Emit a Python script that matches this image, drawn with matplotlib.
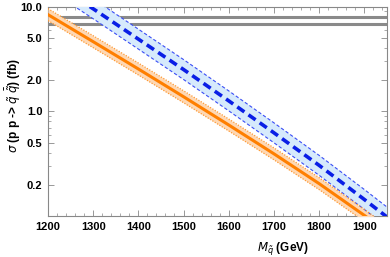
import numpy as np
import matplotlib
matplotlib.use("Agg")
import matplotlib.pyplot as plt
from matplotlib.ticker import FixedLocator, NullFormatter, MultipleLocator

plt.rcParams['font.family'] = ['Liberation Sans', 'DejaVu Sans']
plt.rcParams['mathtext.fontset'] = 'dejavusans'

# data
mass = [1200, 1300, 1400, 1500, 1600, 1700, 1800, 1900, 1950]
sigma_orange = [8.4, 4.63, 2.54, 1.38, 0.741, 0.393, 0.204, 0.1015, 0.071]
sigma_blue = [18.4, 9.55, 4.9, 2.51, 1.26, 0.624, 0.305, 0.144, 0.098]
orange_factor = 1.14
blue_factor = 1.245
limit_lines = [8.0, 6.8]
yticks = [0.2, 0.5, 1.0, 2.0, 5.0, 10.0]
ytick_labels = ['0.2', '0.5', '1.0', '2.0', '5.0', '10.0']
xticks = [1200, 1300, 1400, 1500, 1600, 1700, 1800, 1900]

fig = plt.figure(figsize=(3.9, 2.57), dpi=100)
ax = fig.add_axes([0.123, 0.1595, 0.869, 0.8145])

m = np.array(mass, dtype=float)
so = np.array(sigma_orange)
sb = np.array(sigma_blue)

ax.set_yscale('log')

for v in limit_lines:
    ax.axhline(v, color='#8a8a8a', lw=2.2, zorder=2)

# blue band
ax.fill_between(m, sb / blue_factor, sb * blue_factor, color='#d6eafc', lw=0, zorder=3)
ax.plot(m, sb * blue_factor, color='#3a4df5', lw=0.8, ls=(0, (3, 2)), zorder=4)
ax.plot(m, sb / blue_factor, color='#3a4df5', lw=0.8, ls=(0, (3, 2)), zorder=4)
ax.plot(m, sb, color='#0a1ee6', lw=2.6, ls=(0, (2.4, 1.4)), zorder=5)

# orange band
ax.fill_between(m, so / orange_factor, so * orange_factor, color='#fed8b4', lw=0, zorder=3)
ax.plot(m, so * orange_factor, color='#ff9a33', lw=0.9, ls=(0, (1, 1.2)), zorder=4)
ax.plot(m, so / orange_factor, color='#ff9a33', lw=0.9, ls=(0, (1, 1.2)), zorder=4)
ax.plot(m, so, color='#ff7f00', lw=2.2, zorder=5)

ax.set_xlim(1200, 1950)
ax.set_ylim(0.1, 10.0)

ax.xaxis.set_major_locator(FixedLocator(xticks))
ax.xaxis.set_minor_locator(MultipleLocator(20))
ax.yaxis.set_major_locator(FixedLocator(yticks))
ax.set_yticklabels(ytick_labels)
minor_y = [v * d for d in [0.1, 1, 10] for v in range(1, 10)]
ax.yaxis.set_minor_locator(FixedLocator(minor_y))
ax.yaxis.set_minor_formatter(NullFormatter())

for lab in ax.get_xticklabels() + ax.get_yticklabels():
    lab.set_fontweight('bold')
    lab.set_fontsize(8)

ax.tick_params(which='both', direction='in', top=True, right=True, color='#888888')
ax.tick_params(which='major', length=4, width=0.6, pad=4)
ax.tick_params(which='minor', length=2, width=0.5)

for s in ax.spines.values():
    s.set_color('#888888')
    s.set_linewidth(0.8)

ax.set_xlabel(r'$M_{\tilde{q}}$ (GeV)', fontsize=8.5, fontweight='bold')
ax.xaxis.set_label_coords(0.693, -0.115)
ax.set_ylabel(r'$\sigma$ (p p -> $\tilde{q}$ $\bar{\tilde{q}}$) (fb)', fontsize=8.5, fontweight='bold')
ax.yaxis.set_label_coords(-0.075, 0.53)

fig.savefig('out.png', dpi=100)
